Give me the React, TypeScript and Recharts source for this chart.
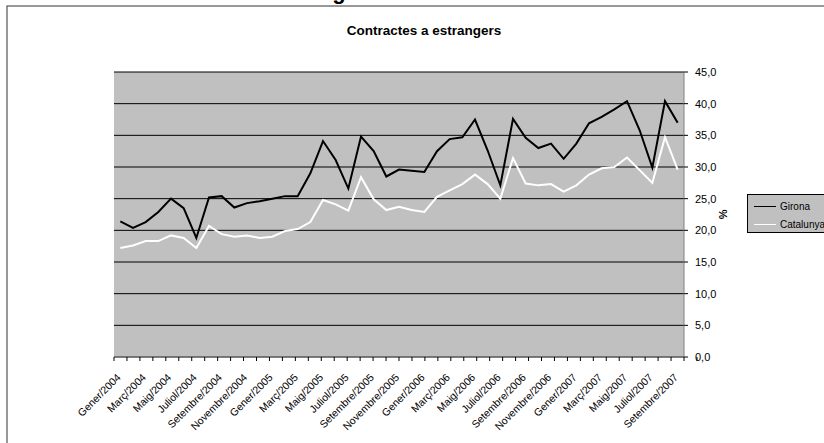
import React from 'react';
import { LineChart, Line, XAxis, YAxis, CartesianGrid, Legend, ReferenceArea } from 'recharts';

const monthNames = ['Gener', 'Febrer', 'Març', 'Abril', 'Maig', 'Juny', 'Juliol', 'Agost', 'Setembre', 'Octubre', 'Novembre', 'Desembre'];
const years = [2004, 2005, 2006, 2007];

const girona = [
  21.4, 20.4, 21.3, 22.9, 25.0, 23.5, 18.8, 25.2, 25.4, 23.6, 24.3, 24.6,
  25.0, 25.4, 25.4, 29.0, 34.1, 31.1, 26.6, 34.8, 32.5, 28.5, 29.6, 29.4,
  29.2, 32.5, 34.4, 34.7, 37.5, 32.6, 27.1, 37.6, 34.6, 33.0, 33.7, 31.3,
  33.7, 36.9, 37.9, 39.1, 40.4, 35.8, 29.9, 40.4, 37.0,
];

const catalunya = [
  17.2, 17.6, 18.3, 18.3, 19.2, 18.8, 17.2, 20.7, 19.4, 19.0, 19.2, 18.8,
  19.0, 19.9, 20.2, 21.3, 24.8, 24.1, 23.1, 28.4, 24.9, 23.2, 23.7, 23.2,
  22.9, 25.3, 26.3, 27.3, 28.8, 27.3, 25.0, 31.4, 27.4, 27.1, 27.3, 26.1,
  27.1, 28.8, 29.8, 30.0, 31.5, 29.5, 27.5, 34.7, 29.6,
];

const months = years.flatMap((y) => monthNames.map((m) => `${m}/${y}`)).slice(0, girona.length);

const yTicks = [0, 5, 10, 15, 20, 25, 30, 35, 40, 45];
const boundaryTicks = months.map((_, i) => i).concat(months.length);

const data = months.map((month, i) => ({
  month,
  Girona: girona[i],
  Catalunya: catalunya[i],
}));

const FONT = '"Liberation Sans", Arial, sans-serif';

const MonthTick = ({ x, y, payload }: { x?: number; y?: number; payload?: { value: string } }) => {
  const ax = (x ?? 0) + 1;
  const ay = (y ?? 0) + 12;
  return (
    <text
      x={ax}
      y={ay}
      transform={`rotate(-45, ${ax}, ${ay})`}
      textAnchor="end"
      fontSize={10.5}
      fontFamily={FONT}
      fill="#000"
    >
      {payload?.value}
    </text>
  );
};

const LegendBox = () => (
  <div
    style={{
      width: 90,
      height: 39,
      background: '#c0c0c0',
      border: '1px solid #000',
      boxSizing: 'border-box',
      fontFamily: FONT,
      fontSize: 10,
      color: '#000',
      position: 'relative',
    }}
  >
    {[
      { name: 'Girona', color: '#000', top: 5 },
      { name: 'Catalunya', color: '#fff', top: 23 },
    ].map((item) => (
      <div key={item.name} style={{ position: 'absolute', left: 6, top: item.top, display: 'flex', alignItems: 'center', height: 12 }}>
        <span style={{ display: 'inline-block', width: 22, height: 0, borderTop: `1px solid ${item.color}`, marginRight: 4 }} />
        <span style={{ whiteSpace: 'nowrap' }}>{item.name}</span>
      </div>
    ))}
  </div>
);

export default function App() {
  return (
    <div style={{ position: 'absolute', left: 0, top: 0, width: 824, height: 443, background: '#fff', overflow: 'hidden' }}>
      <svg width={824} height={443} style={{ position: 'absolute', left: 0, top: 0 }}>
        <text x={339} y={-1.5} textAnchor="middle" fontSize={22} fontWeight="bold" fontFamily={FONT} fill="#000">g</text>
        <rect x={7} y={6} width={830} height={450} fill="none" stroke="#333" strokeWidth={1} />
        <text x={424} y={35} textAnchor="middle" fontSize={13.5} fontWeight="bold" fontFamily={FONT} fill="#000">
          Contractes a estrangers
        </text>
      </svg>
      <div style={{ position: 'absolute', left: 0, top: 0 }}>
        <LineChart width={824} height={443} data={data} margin={{ top: 72, right: 80, left: 114, bottom: 6 }}>
          <CartesianGrid horizontal vertical={false} stroke="#000" fill="#c0c0c0" fillOpacity={1} xAxisId="labels" />
          <XAxis
            xAxisId={0}
            type="number"
            domain={[0, months.length]}
            ticks={boundaryTicks}
            interval={0}
            height={1}
            tick={() => <g />}
            tickSize={4}
            tickLine={{ stroke: '#000' }}
            axisLine={{ stroke: '#808080' }}
          />
          <XAxis
            xAxisId="labels"
            dataKey="month"
            interval={1}
            height={79}
            padding={{ left: 6.33, right: 6.33 }}
            tickLine={false}
            axisLine={false}
            tick={<MonthTick />}
          />
          <YAxis
            orientation="right"
            width={60}
            domain={[0, 45]}
            ticks={yTicks}
            interval={0}
            tickFormatter={(v: number) => v.toFixed(1).replace('.', ',')}
            tickSize={4}
            tickMargin={7}
            tickLine={{ stroke: '#000' }}
            axisLine={{ stroke: '#808080' }}
            tick={{ fill: '#000', fontSize: 11, fontFamily: FONT, textAnchor: 'start' }}
            label={{ value: '%', angle: 90, position: 'center', dx: 9, style: { fontSize: 11, fontWeight: 'bold', fontFamily: FONT, fill: '#000' } }}
          />
          <ReferenceArea xAxisId={0} x1={0} x2={months.length} y1={0} y2={45} fill="none" stroke="#808080" strokeWidth={1} />
          <Line xAxisId="labels" type="linear" dataKey="Girona" stroke="#000" strokeWidth={2} dot={false} isAnimationActive={false} />
          <Line xAxisId="labels" type="linear" dataKey="Catalunya" stroke="#fff" strokeWidth={2} dot={false} isAnimationActive={false} />
          <Legend
            layout="horizontal"
            verticalAlign="middle"
            align="center"
            content={<LegendBox />}
            wrapperStyle={{ left: 747, top: 194, width: 90 }}
          />
        </LineChart>
      </div>
    </div>
  );
}
